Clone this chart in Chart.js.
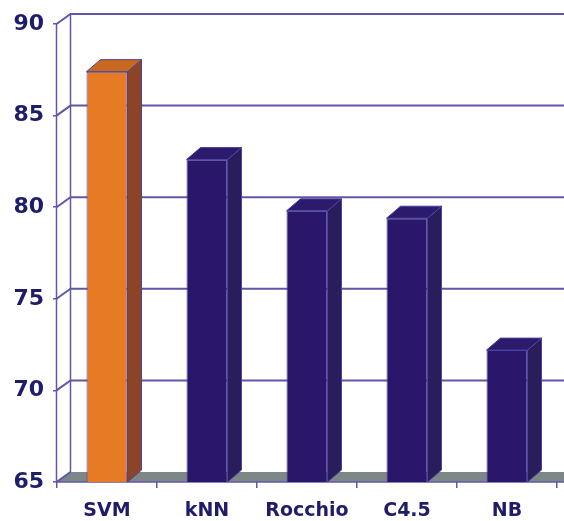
<!DOCTYPE html>
<html lang="en">
<head>
  <meta charset="UTF-8">
  <title>Classifier accuracy</title>
  <script src="https://cdn.jsdelivr.net/npm/chart.js@4"></script>
  <style>
    html, body { margin: 0; padding: 0; background: #fff; }
    canvas { display: block; }
  </style>
</head>
<body>
  <canvas id="chart" width="564" height="521"></canvas>
  <script>
    const categories = ['SVM', 'kNN', 'Rocchio', 'C4.5', 'NB'];
    const accuracy = [87.4, 82.6, 79.8, 79.4, 72.2];
    const yTicks = [65, 70, 75, 80, 85, 90];

    const frontColors = ['#e77a25', '#2a176b', '#2a176b', '#2a176b', '#2a176b'];
    const sideColors = ['#8b4526', '#2a1d5c', '#2a1d5c', '#2a1d5c', '#2a1d5c'];
    const topColors = ['#c8691f', '#2c1a6d', '#2c1a6d', '#2c1a6d', '#2c1a6d'];
    const edge = '#4b42a0';
    const grid = '#5d59a6';
    const ink = '#1f1d6b';

    // 3D offsets: bar depth and back wall
    const barDx = 14, barDy = -12;
    const wallDx = 14, wallDy = -10;
    const axisX = 56.5;

    function poly(ctx, pts, fill, stroke) {
      ctx.beginPath();
      ctx.moveTo(pts[0][0], pts[0][1]);
      for (let k = 1; k < pts.length; k++) ctx.lineTo(pts[k][0], pts[k][1]);
      ctx.closePath();
      if (fill) { ctx.fillStyle = fill; ctx.fill(); }
      if (stroke) { ctx.strokeStyle = stroke; ctx.lineWidth = 1; ctx.stroke(); }
    }

    const box3d = {
      id: 'box3d',
      beforeDatasetsDraw(chart) {
        const { ctx, chartArea: { bottom }, scales: { y } } = chart;
        const W = chart.width;
        ctx.save();
        // floor
        poly(ctx, [[axisX, bottom], [axisX + wallDx, bottom + wallDy], [W, bottom + wallDy], [W, bottom]], '#7e8788');
        ctx.strokeStyle = grid;
        ctx.lineWidth = 2;
        yTicks.forEach(v => {
          const py = y.getPixelForValue(v);
          ctx.beginPath();
          ctx.moveTo(axisX, py);
          ctx.lineTo(axisX + wallDx, py + wallDy);
          if (v !== yTicks[0]) ctx.lineTo(W, py + wallDy);
          ctx.stroke();
        });
        // back wall edge and front axis
        ctx.lineWidth = 1.5;
        const top = y.getPixelForValue(yTicks[yTicks.length - 1]);
        ctx.beginPath();
        ctx.moveTo(axisX + wallDx, top + wallDy);
        ctx.lineTo(axisX + wallDx, bottom + wallDy);
        ctx.moveTo(axisX, top);
        ctx.lineTo(axisX, bottom);
        ctx.moveTo(axisX, bottom);
        ctx.lineTo(W, bottom);
        ctx.stroke();
        ctx.restore();
      },
      afterDatasetsDraw(chart) {
        const { ctx, chartArea } = chart;
        ctx.save();
        chart.getDatasetMeta(0).data.forEach((bar, i) => {
          const l = bar.x - bar.width / 2, r = bar.x + bar.width / 2;
          const t = bar.y, b = Math.min(bar.base, chartArea.bottom);
          poly(ctx, [[r, t], [r + barDx, t + barDy], [r + barDx, b + barDy], [r, b]], sideColors[i], edge);
          poly(ctx, [[l, t], [l + barDx, t + barDy], [r + barDx, t + barDy], [r, t]], topColors[i], edge);
        });
        ctx.restore();
      }
    };

    new Chart(document.getElementById('chart'), {
      type: 'bar',
      data: {
        labels: categories,
        datasets: [{
          data: accuracy,
          backgroundColor: frontColors,
          borderColor: edge,
          borderWidth: 1,
          categoryPercentage: 1,
          barPercentage: 0.41,
        }],
      },
      options: {
        responsive: false,
        animation: false,
        devicePixelRatio: 1,
        layout: { padding: { top: 24, right: 7, left: 0, bottom: 0 } },
        plugins: { legend: { display: false }, tooltip: { enabled: false } },
        scales: {
          x: {
            offset: true,
            border: { display: false },
            grid: { drawOnChartArea: false, drawTicks: true, tickLength: 6, color: grid, lineWidth: 1.5, offset: true },
            ticks: { color: ink, padding: 12, font: { family: 'DejaVu Sans', weight: 'bold', size: 19 } },
            afterFit: s => { s.height = 39; },
          },
          y: {
            min: 65,
            max: 90,
            border: { display: false },
            grid: { drawOnChartArea: false, drawTicks: true, tickLength: 4, color: grid, lineWidth: 1.5 },
            ticks: { stepSize: 5, color: ink, padding: 9, font: { family: 'DejaVu Sans', weight: 'bold', size: 22 } },
            afterFit: s => { s.width = 57; },
          },
        },
      },
      plugins: [box3d],
    });
  </script>
</body>
</html>
